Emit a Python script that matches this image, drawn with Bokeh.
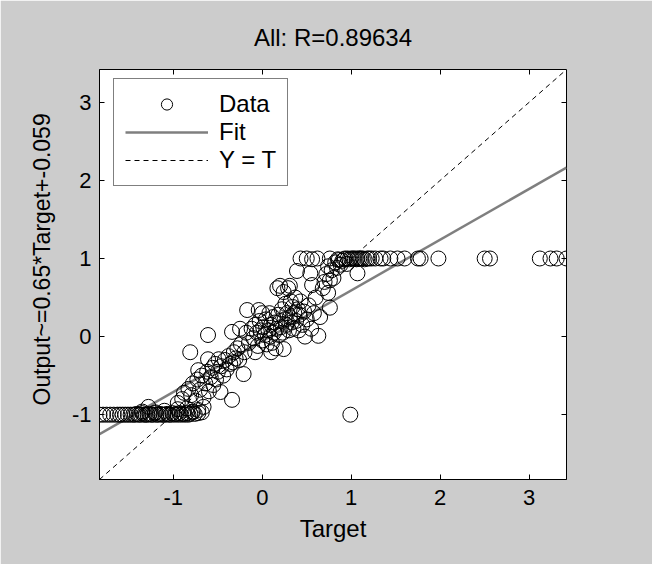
from bokeh.plotting import figure
from bokeh.models import FixedTicker, LinearAxis, Legend, LegendItem, Range1d, Title
from bokeh.embed import file_html
from bokeh.resources import INLINE

# ---------------- text / constants ----------------
title_text = "All: R=0.89634"
x_label = "Target"
y_label = "Output~=0.65*Target+-0.059"
fit_slope = 0.65
fit_intercept = -0.059
tick_values = [-1, 0, 1, 2, 3]
tick_labels = ["-1", "0", "1", "2", "3"]
legend_labels = ["Data", "Fit", "Y = T"]

# ---------------- data: saturated low row (output about -1) ----------------
low_targets = [-1.83, -1.79, -1.75, -1.71, -1.67, -1.63,
               -1.60, -1.57, -1.54, -1.51, -1.48, -1.45,
               -1.43, -1.41, -1.39, -1.37, -1.35, -1.33,
               -1.31, -1.29, -1.27, -1.25, -1.23, -1.21,
               -1.19, -1.17, -1.15, -1.13, -1.11, -1.09,
               -1.07, -1.05, -1.03, -1.01, -0.99, -0.97,
               -0.95, -0.93, -0.91, -0.89, -0.87, -0.85,
               -0.83, -0.81, -0.79, -0.76, -0.72, -0.68,
               -1.35, -1.28, -1.20, -1.10, -0.95, -0.85, -0.78, -0.72, -0.66]
low_outputs = [-1.00, -1.00, -1.00, -1.00, -1.00, -1.00,
               -1.00, -1.00, -1.00, -1.00, -1.00, -1.00,
               -1.00, -0.99, -1.00, -1.00, -0.98, -1.00,
               -1.00, -1.00, -0.99, -1.00, -1.00, -0.98,
               -1.00, -1.00, -0.99, -1.00, -1.00, -1.00,
               -0.99, -1.00, -1.00, -0.98, -1.00, -0.99,
               -1.00, -0.98, -1.00, -0.99, -1.00, -0.98,
               -1.00, -0.99, -0.97, -0.99, -0.98, -0.97,
               -0.96, -0.90, -0.97, -0.95, -0.93, -0.92, -0.96, -0.94, -0.90]

# ---------------- data: lower part of the diagonal cloud ----------------
lower_cloud = [(-0.95, -0.85), (-0.90, -0.80), (-0.88, -0.72), (-0.83, -0.67), (-0.80, -0.75),
               (-0.78, -0.60), (-0.75, -0.82), (-0.73, -0.55), (-0.72, -0.43), (-0.70, -0.68),
               (-0.68, -0.50), (-0.66, -0.78), (-0.64, -0.60), (-0.62, -0.45), (-0.61, -0.29),
               (-0.60, -0.70), (-0.58, -0.52), (-0.56, -0.40), (-0.55, -0.62), (-0.53, -0.35),
               (-0.52, -0.55), (-0.50, -0.45), (-0.49, -0.29), (-0.47, -0.71), (-0.46, -0.38),
               (-0.44, -0.50), (-0.42, -0.30), (-0.40, -0.42), (-0.38, -0.25), (-0.36, -0.35),
               (-0.34, -0.81), (-0.33, -0.33), (-0.32, -0.20), (-0.30, -0.28), (-0.28, -0.15),
               (-0.26, -0.30), (-0.24, -0.10), (-0.21, -0.48), (-0.20, -0.20), (-0.81, -0.20),
               (-0.61, 0.02), (-0.34, 0.06), (-0.17, 0.34), (-0.04, 0.34), (-0.25, 0.10)]

# ---------------- data: central part of the cloud ----------------
central_cloud = [(-0.18, 0.05), (-0.15, -0.08), (-0.12, 0.10), (-0.10, -0.02), (-0.08, 0.15),
                 (-0.08, -0.20), (-0.06, 0.05), (-0.05, -0.12), (-0.03, 0.20), (-0.02, 0.08),
                 (0.00, -0.05), (0.00, 0.30), (0.01, 0.12), (0.03, 0.02), (0.04, 0.22),
                 (0.05, -0.10), (0.07, 0.08), (0.08, 0.30), (0.09, 0.00), (0.10, 0.15),
                 (0.10, -0.20), (0.11, -0.08), (0.12, 0.25), (0.13, 0.05), (0.14, 0.18),
                 (0.15, -0.15), (0.16, 0.10), (0.17, 0.62), (0.18, 0.28), (0.19, 0.02),
                 (0.20, 0.20), (0.20, 0.65), (0.21, 0.12), (0.22, 0.35), (0.23, 0.05),
                 (0.24, -0.16), (0.24, 0.57), (0.25, 0.22), (0.26, 0.42), (0.27, 0.15),
                 (0.28, 0.30), (0.29, 0.62), (0.30, 0.08), (0.31, 0.25), (0.31, 0.65),
                 (0.32, 0.45), (0.33, 0.18), (0.34, 0.38), (0.35, 0.10), (0.36, 0.30),
                 (0.37, 0.50), (0.38, 0.20), (0.40, 0.35), (0.41, 0.08), (0.42, 0.28),
                 (0.43, 0.45), (0.45, 0.15), (0.47, 0.32), (0.48, 0.00), (0.50, 0.22),
                 (0.52, 0.40), (0.55, 0.10), (0.58, 0.30), (0.60, 0.50), (0.63, 0.01),
                 (0.65, 0.25)]

# ---------------- data: upper part of the cloud ----------------
upper_cloud = [(0.39, 0.84), (0.54, 0.81), (0.56, 0.66), (0.68, 0.62), (0.70, 0.70),
               (0.72, 0.80), (0.74, 0.56), (0.74, 0.90), (0.76, 0.72), (0.76, 0.37),
               (0.78, 0.85), (0.80, 0.75), (0.82, 0.95), (0.84, 0.88), (0.86, 0.98),
               (0.88, 0.92), (0.90, 0.97), (0.92, 0.99), (1.07, 0.81), (0.95, 0.93),
               (0.99, -1.00)]

# ---------------- data: saturated high row (output about 1) ----------------
high_targets = [0.43, 0.50, 0.56, 0.62, 0.76, 0.85, 0.93, 0.96, 0.98, 1.00,
                1.02, 1.04, 1.06, 1.07, 1.09, 1.11, 1.13, 1.15, 1.18, 1.20,
                1.23, 1.27, 1.33, 1.36, 1.44, 1.52, 1.60, 1.75, 1.78, 1.98,
                2.50, 2.56, 3.12, 3.24, 3.31, 3.42]
high_outputs = [1.00, 1.00, 0.99, 1.00, 1.00, 0.99, 1.00, 1.00, 0.99, 1.00,
                1.00, 1.00, 0.99, 1.00, 1.00, 1.00, 1.00, 0.99, 1.00, 1.00,
                1.00, 1.00, 1.00, 1.00, 1.00, 1.00, 1.00, 1.00, 1.00, 1.00,
                1.00, 1.00, 1.00, 1.00, 1.00, 1.00]

# ---------------- assemble ----------------
targets = list(low_targets) + [t for t, _ in lower_cloud] + [t for t, _ in central_cloud] \
    + [t for t, _ in upper_cloud] + list(high_targets)
outputs = list(low_outputs) + [o for _, o in lower_cloud] + [o for _, o in central_cloud] \
    + [o for _, o in upper_cloud] + list(high_outputs)

lo = min(min(targets), min(outputs))
hi = max(max(targets), max(outputs))
fit_x = [min(targets), max(targets)]
fit_y = [fit_slope * v + fit_intercept for v in fit_x]
ident_x = [lo, hi]
ident_y = [lo, hi]

FONT = "Liberation Sans"
TICK_FS = "22px"
LABEL_FS = "24px"
YLABEL_FS = "23px"
BG = "#cccccc"
overrides = {v: s for v, s in zip(tick_values, tick_labels)}

p = figure(width=652, height=564, output_backend="svg", toolbar_location=None,
           x_range=Range1d(lo, hi), y_range=Range1d(lo, hi),
           min_border_left=99, min_border_right=86, min_border_top=69, min_border_bottom=85,
           background_fill_color="white", border_fill_color=BG,
           outline_line_color="black", outline_line_width=1, outline_line_alpha=1.0)

p.title.text = title_text
p.title.align = "center"
p.title.text_font = FONT
p.title.text_font_size = LABEL_FS
p.title.text_font_style = "normal"
p.title.text_color = "black"
p.title.standoff = 37

p.grid.visible = False

for ax in (p.xaxis[0], p.yaxis[0]):
    ax.ticker = FixedTicker(ticks=tick_values)
    ax.major_label_overrides = overrides
    ax.major_tick_in = 5
    ax.major_tick_out = 0
    ax.minor_tick_in = 0
    ax.minor_tick_out = 0
    ax.axis_line_color = "black"
    ax.major_tick_line_color = "black"
    ax.major_label_text_font = FONT
    ax.major_label_text_font_size = TICK_FS
    ax.major_label_text_color = "black"

p.xaxis[0].major_label_standoff = 10
p.yaxis[0].major_label_standoff = 8
p.xaxis[0].axis_label = x_label
p.xaxis[0].axis_label_text_font = FONT
p.xaxis[0].axis_label_text_font_size = LABEL_FS
p.xaxis[0].axis_label_text_font_style = "normal"
p.xaxis[0].axis_label_text_color = "black"
p.xaxis[0].axis_label_standoff = 7

# mirrored inward ticks on top and right edges of the box (no labels drawn)
for loc in ("above", "right"):
    mirror = LinearAxis(ticker=FixedTicker(ticks=tick_values),
                        major_label_text_font_size="1px", major_label_text_color=None,
                        major_label_standoff=0,
                        major_tick_in=5, major_tick_out=0, minor_tick_in=0, minor_tick_out=0,
                        axis_line_color=None, major_tick_line_color="black")
    p.add_layout(mirror, loc)

# y axis label: starts level with the -1 tick and reads upward, as in the original
ytitle = Title(text=y_label, align="left", offset=74, standoff=27,
               text_font=FONT, text_font_size=YLABEL_FS, text_font_style="normal",
               text_color="black")
p.add_layout(ytitle, "left")

ident = p.line(ident_x, ident_y, line_color="black", line_width=1, line_dash="5 4")
fit = p.line(fit_x, fit_y, line_color="#7f7f7f", line_width=2.5)
sc = p.scatter(targets, outputs, marker="circle", size=15, fill_color=None,
               line_color="black", line_width=1)

legend = Legend(items=[LegendItem(label=legend_labels[0], renderers=[sc]),
                       LegendItem(label=legend_labels[1], renderers=[fit]),
                       LegendItem(label=legend_labels[2], renderers=[ident])],
                location=(14, 293), orientation="vertical",
                label_text_font=FONT, label_text_font_size=LABEL_FS, label_text_color="black",
                glyph_width=83, glyph_height=28, label_height=28, spacing=0,
                padding=11, margin=0, label_standoff=11,
                border_line_color="black", border_line_width=1,
                background_fill_color="white", background_fill_alpha=1.0)
p.add_layout(legend)

open("out.html", "w").write(file_html(p, INLINE))
